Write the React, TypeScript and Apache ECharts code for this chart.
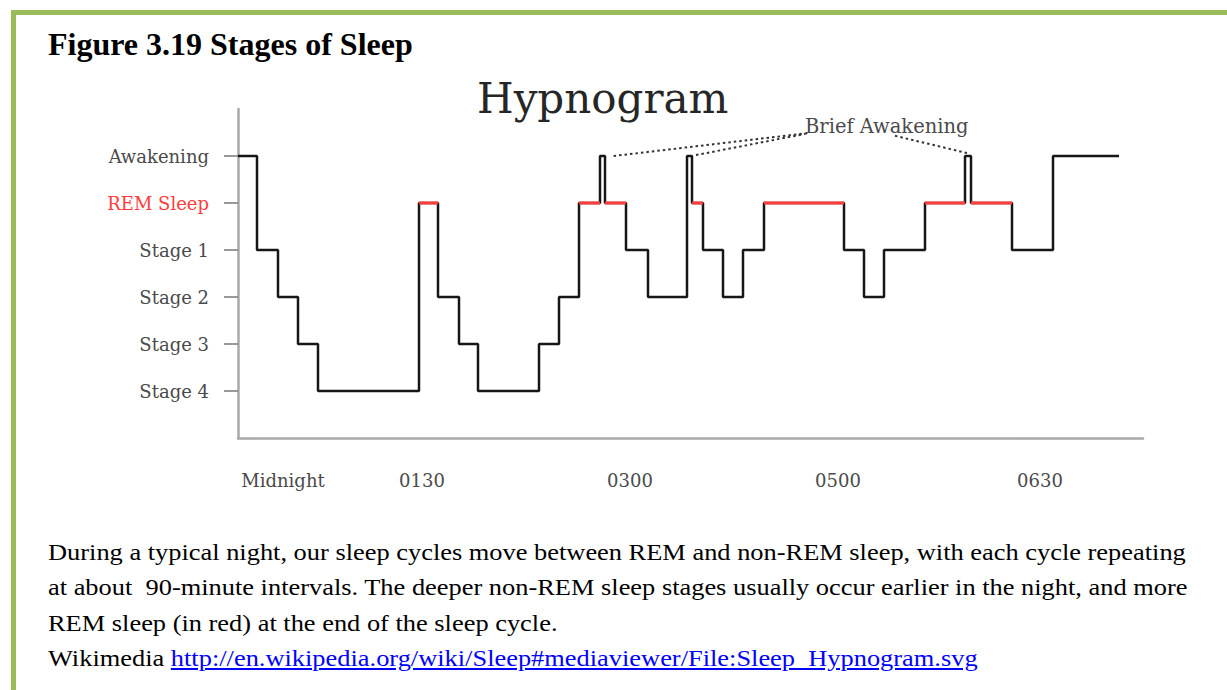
import React, { useEffect, useRef } from "react";
import * as echarts from "echarts";

// ---- data (x in minutes from start of record, y = stage code) ----
const stageNames = ["Stage 4", "Stage 3", "Stage 2", "Stage 1", "REM Sleep", "Awakening"];
const REM = 4;
const changeTimes = [0, 9.5, 20, 30, 40, 90.5, 100, 110.5, 120, 150.5, 160.5, 170.5, 181, 183.5, 194, 205, 224.5, 227, 232.5, 242.5, 252.5, 263, 303, 313, 323, 343.5, 363.5, 366.5, 387, 407.5, 440.5];
const stageCodes = [5, 3, 2, 1, 0, 4, 2, 1, 0, 1, 2, 4, 5, 4, 3, 2, 5, 4, 3, 2, 3, 4, 3, 2, 3, 4, 5, 4, 3, 5, 5];
const timeLabels = ["Midnight", "0130", "0300", "0500", "0630"];
const timeLabelPositions = [22.5, 92, 196, 300, 401];
const xMax = 452.5;

// "Brief Awakening" annotation: leader line endpoints [x1, y1, x2, y2]
const noteText = "Brief Awakening";
const notePosition = [283.5, 5.62];
const noteLeaders = [
  [187.8, 5.0, 285.4, 5.49],
  [229, 5.02, 283.5, 5.47],
  [328.5, 5.43, 364.8, 5.06],
];

const chartFont = "DejaVu Serif";

export default function App() {
  const ref = useRef<HTMLDivElement>(null);

  useEffect(() => {
    if (!ref.current) return;
    const chart = echarts.init(ref.current, undefined, { renderer: "svg" });

    const stepData = changeTimes.map((t, i) => [t, stageCodes[i]]);
    const remSeries: any[] = [];
    for (let i = 0; i < changeTimes.length - 1; i++) {
      if (stageCodes[i] === REM) {
        remSeries.push({
          type: "line",
          data: [
            [changeTimes[i], REM],
            [changeTimes[i + 1], REM],
          ],
          symbol: "none",
          silent: true,
          lineStyle: { color: "#ff3d3d", width: 3 },
          z: 3,
        });
      }
    }

    chart.setOption({
      animation: false,
      backgroundColor: "transparent",
      title: {
        text: "Hypnogram",
        left: 472,
        top: 72,
        textStyle: { fontFamily: chartFont, fontSize: 42, fontWeight: "normal", color: "#262626" },
      },
      grid: { left: 238, top: 109, width: 905, height: 329, outerBoundsMode: "none", containLabel: false },
      xAxis: {
        type: "value",
        min: 0,
        max: xMax,
        axisLine: { show: true, onZero: false, lineStyle: { color: "#a8a8a8", width: 2.5 } },
        axisTick: { show: false },
        splitLine: { show: false },
        axisLabel: {
          customValues: timeLabelPositions,
          formatter: (v: number) => {
            const i = timeLabelPositions.findIndex((p) => Math.abs(p - v) < 0.01);
            return i >= 0 ? timeLabels[i] : "";
          },
          margin: 33,
          fontFamily: chartFont,
          fontSize: 18,
          color: "#4a4a4a",
        },
      },
      yAxis: {
        type: "value",
        min: -1,
        max: 6,
        interval: 1,
        axisLine: { show: true, onZero: false, lineStyle: { color: "#a8a8a8", width: 2.5 } },
        axisTick: {
          show: true,
          customValues: [0, 1, 2, 3, 4, 5],
          length: 14,
          lineStyle: { color: "#777", width: 1.5 },
        },
        splitLine: { show: false },
        axisLabel: {
          customValues: [0, 1, 2, 3, 4, 5],
          formatter: (v: number) => stageNames[v] ?? "",
          margin: 29,
          fontFamily: chartFont,
          fontSize: 18,
          color: (v: any) => (Number(v) === REM ? "#ff3d3d" : "#4a4a4a"),
        },
      },
      series: [
        {
          type: "line",
          step: "end",
          data: stepData,
          symbol: "none",
          silent: true,
          lineStyle: { color: "#161616", width: 2.5 },
          z: 2,
          markLine: {
            silent: true,
            symbol: ["none", "none"],
            label: { show: false },
            lineStyle: { color: "#333", width: 2, type: [2.5, 3] },
            data: noteLeaders.map((l) => [{ coord: [l[0], l[1]] }, { coord: [l[2], l[3]] }]),
          },
          markPoint: {
            silent: true,
            symbol: "circle",
            symbolSize: 0,
            label: {
              show: true,
              position: "right",
              distance: 0,
              formatter: noteText,
              fontFamily: chartFont,
              fontSize: 19.5,
              color: "#4a4a4a",
            },
            data: [{ coord: notePosition }],
          },
        },
        ...remSeries,
      ],
    });

    return () => chart.dispose();
  }, []);

  return (
    <div
      style={{
        position: "absolute",
        left: 0,
        top: 0,
        width: 1227,
        height: 690,
        overflow: "hidden",
        background: "#fff",
      }}
    >
      <div
        style={{
          position: "absolute",
          left: 11,
          top: 10,
          width: 1400,
          height: 900,
          border: "5px solid #9BBB59",
          boxSizing: "border-box",
        }}
      />
      <div
        style={{
          position: "absolute",
          left: 48,
          top: 28,
          fontFamily: "'Liberation Serif', serif",
          fontWeight: "bold",
          fontSize: 32,
          lineHeight: "32px",
          whiteSpace: "nowrap",
          color: "#000",
        }}
      >
        Figure 3.19 Stages of Sleep
      </div>
      <div ref={ref} style={{ position: "absolute", left: 0, top: 0, width: 1227, height: 520 }} />
      <div
        style={{
          position: "absolute",
          left: 48,
          top: 535,
          fontFamily: "'Liberation Serif', serif",
          fontSize: 24,
          lineHeight: "35.3px",
          whiteSpace: "pre",
          color: "#000",
          transform: "scaleX(1.1)",
          transformOrigin: "0 0",
        }}
      >
        {"During a typical night, our sleep cycles move between REM and non-REM sleep, with each cycle repeating\n"}
        {"at about  90-minute intervals. The deeper non-REM sleep stages usually occur earlier in the night, and more\n"}
        {"REM sleep (in red) at the end of the sleep cycle.\n"}
        {"Wikimedia "}
        <a
          href="http://en.wikipedia.org/wiki/Sleep#mediaviewer/File:Sleep_Hypnogram.svg"
          style={{ color: "#0000ff", textDecoration: "underline" }}
        >
          http://en.wikipedia.org/wiki/Sleep#mediaviewer/File:Sleep_Hypnogram.svg
        </a>
      </div>
    </div>
  );
}
